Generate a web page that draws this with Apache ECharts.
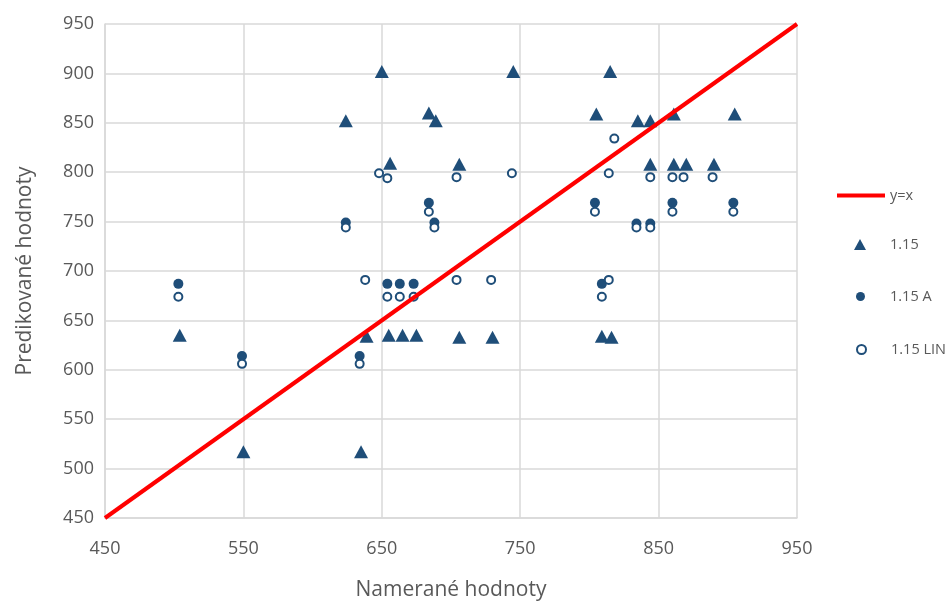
<!DOCTYPE html>
<html><head><meta charset="utf-8">
<script src="https://cdn.jsdelivr.net/npm/echarts@6/dist/echarts.min.js"></script>
<style>html,body{margin:0;padding:0;background:#fff}#c{width:952px;height:602px}</style>
</head><body><div id="c"></div>
<script>
const xTicks = [450, 550, 650, 750, 850, 950];
const yTicks = [450, 500, 550, 600, 650, 700, 750, 800, 850, 900, 950];
const lineYX = [[450, 450], [950, 950]];
const s115 = [
  [504, 635], [550, 517], [635, 517], [639, 634], [655, 635], [665, 635], [675, 635],
  [706, 633], [730, 633], [809, 634], [816, 633],
  [624, 852], [650, 902], [656, 809], [684, 860], [689, 852],
  [706, 808], [745, 902], [815, 902], [805, 859], [835, 852], [844, 852],
  [861, 859], [905, 859], [844, 808], [861, 808], [870, 808], [890, 808]
];
const s115A = [
  [503, 687], [624, 749], [684, 769], [688, 749], [654, 687], [663, 687], [673, 687],
  [549, 614], [634, 614], [804, 769], [834, 748], [844, 748], [860, 769], [904, 769], [809, 687]
];
const s115LIN = [
  [503, 674], [624, 744], [648, 799], [654, 794], [684, 760], [688, 744], [638, 691],
  [654, 674], [663, 674], [673, 674], [549, 606], [634, 606],
  [704, 795], [744, 799], [814, 799], [818, 834], [804, 760], [834, 744], [844, 744],
  [844, 795], [860, 795], [868, 795], [889, 795], [860, 760], [904, 760],
  [704, 691], [729, 691], [814, 691], [809, 674]
];
const blue = '#1F4E79';
const txt = '#595959';
const legText = { color: txt, fontSize: 14.5, fontFamily: 'Open Sans' };
const chart = echarts.init(document.getElementById('c'));
chart.setOption({
  animation: false,
  backgroundColor: '#fff',
  textStyle: { fontFamily: 'Open Sans' },
  grid: { left: 105, right: 155, top: 24, bottom: 84, containLabel: false, outerBoundsMode: 'none' },
  xAxis: {
    type: 'value', min: xTicks[0], max: xTicks[xTicks.length - 1], interval: 100,
    name: 'Namerané hodnoty', nameLocation: 'middle', nameGap: 62,
    nameTextStyle: { color: txt, fontSize: 21, fontFamily: 'Open Sans' },
    axisLine: { show: true, lineStyle: { color: '#d9d9d9', width: 1.5 } },
    axisTick: { show: false },
    axisLabel: { color: txt, fontSize: 18, margin: 22 },
    splitLine: { show: true, lineStyle: { color: '#d9d9d9', width: 1.5 } }
  },
  yAxis: {
    type: 'value', min: yTicks[0], max: yTicks[yTicks.length - 1], interval: 50,
    name: 'Predikované hodnoty', nameLocation: 'middle', nameGap: 69,
    nameTextStyle: { color: txt, fontSize: 21, fontFamily: 'Open Sans' },
    axisLine: { show: true, lineStyle: { color: '#d9d9d9', width: 1.5 } },
    axisTick: { show: false },
    axisLabel: { color: txt, fontSize: 18, margin: 11 },
    splitLine: { show: true, lineStyle: { color: '#d9d9d9', width: 1.5 } }
  },
  legend: [
    { orient: 'vertical', left: 832, top: 183, itemWidth: 48, itemHeight: 4,
      textStyle: legText, data: [{ name: 'y=x', icon: 'rect' }] },
    { orient: 'vertical', left: 849, top: 232, itemWidth: 12, itemHeight: 11,
      textStyle: Object.assign({ padding: [0, 0, 0, 19] }, legText), data: [{ name: '1.15', icon: 'triangle' }] },
    { orient: 'vertical', left: 851, top: 284, itemWidth: 9, itemHeight: 9,
      textStyle: Object.assign({ padding: [0, 0, 0, 20] }, legText), data: [{ name: '1.15 A', icon: 'circle' }] },
    { orient: 'vertical', left: 851, top: 337, itemWidth: 9, itemHeight: 9,
      textStyle: Object.assign({ padding: [0, 0, 0, 20] }, legText), data: [{ name: '1.15 LIN', icon: 'circle' }] }
  ],
  series: [
    { name: 'y=x', type: 'line', data: lineYX, symbol: 'none',
      lineStyle: { color: '#FF0000', width: 4 }, itemStyle: { color: '#FF0000' } },
    { name: '1.15', type: 'scatter', data: s115, symbol: 'triangle', symbolSize: [14, 13],
      itemStyle: { color: blue, opacity: 1 } },
    { name: '1.15 A', type: 'scatter', data: s115A, symbol: 'circle', symbolSize: 10,
      itemStyle: { color: blue, opacity: 1 } },
    { name: '1.15 LIN', type: 'scatter', data: s115LIN, symbol: 'circle', symbolSize: 8,
      itemStyle: { color: '#fff', borderColor: blue, borderWidth: 2, opacity: 1 } }
  ]
});
</script></body></html>
